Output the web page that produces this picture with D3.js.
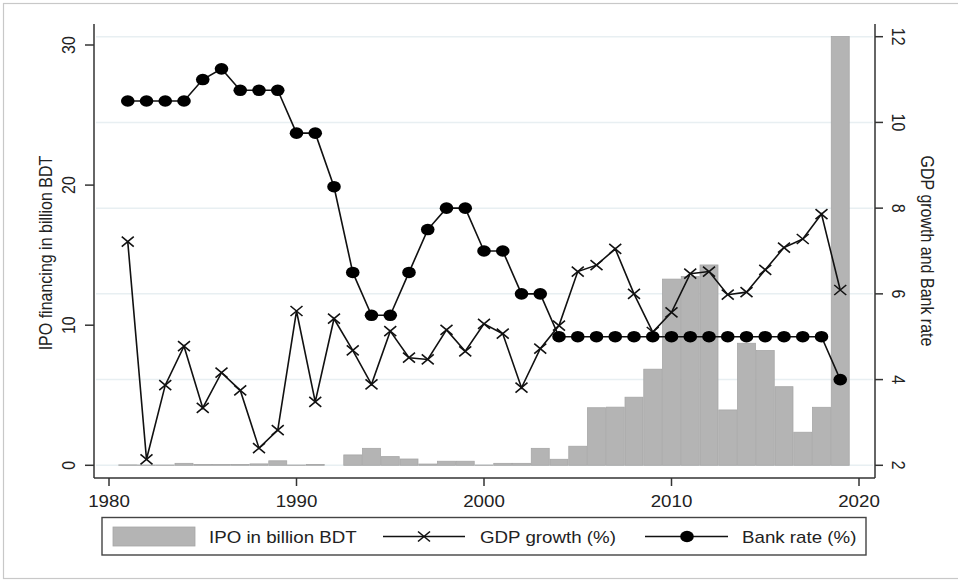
<!DOCTYPE html>
<html>
<head>
<meta charset="utf-8">
<script src="https://cdn.jsdelivr.net/npm/d3@7"></script>
<style>
  body { margin: 0; background: #fff; }
  text { font-family: "Liberation Sans", Arial, sans-serif; fill: #222; }
</style>
</head>
<body>
<div id="wrapper"></div>
<script>
// DATA
const years = [1981,1982,1983,1984,1985,1986,1987,1988,1989,1990,
  1991,1992,1993,1994,1995,1996,1997,1998,1999,2000,
  2001,2002,2003,2004,2005,2006,2007,2008,2009,2010,
  2011,2012,2013,2014,2015,2016,2017,2018,2019]
const ipo = [0.03,0.02,0.02,0.14,0.05,0.05,0.05,0.1,0.32,0.02,0.05,0.0,
  0.74,1.21,0.62,0.45,0.09,0.29,0.29,0.02,0.14,0.14,1.21,0.43,1.36,
  4.11,4.15,4.86,6.86,13.29,13.47,14.3,3.95,8.71,8.19,5.61,2.36,4.14,30.6]
const gdp = [7.22,2.14,3.87,4.78,3.34,4.16,3.75,2.40,2.82,5.60,
  3.48,5.42,4.68,3.89,5.13,4.51,4.47,5.16,4.66,5.30,
  5.07,3.81,4.72,5.26,6.52,6.67,7.05,6.0,5.11,5.57,
  6.47,6.52,5.98,6.04,6.56,7.08,7.28,7.86,6.09]
const bank = [10.5,10.5,10.5,10.5,11,11.25,10.75,10.75,10.75,9.75,
  9.75,8.5,6.5,5.5,5.5,6.5,7.5,8,8,7,
  7,6,6,5,5,5,5,5,5,5,
  5,5,5,5,5,5,5,5,4]
const xTicks = [1980,1990,2000,2010,2020]
const leftTicks = [0,10,20,30]
const rightTicks = [2,4,6,8,10,12]
const legendLabels = ["IPO in billion BDT", "GDP growth (%)", "Bank rate (%)"]

const width = 958, height = 581
const sx = 1.17  // horizontal stretch of the picture

const svg = d3.select('#wrapper').append('svg')
  .attr('width', width).attr('height', height)

// outer frame
svg.append('rect')
  .attr('x', 3.5).attr('y', 3.5).attr('width', 970).attr('height', 575)
  .attr('fill', 'none').attr('stroke', '#c8c8c8').attr('stroke-width', 1.2)

const x = d3.scaleLinear().domain([1980, 2020]).range([109, 859])
const yL = d3.scaleLinear().domain([0, 30]).range([465.3, 45])
const yR = d3.scaleLinear().domain([2, 12]).range([465.3, 36.7])

const plot = {left: 94, right: 875, top: 24, bottom: 478}

// gridlines
svg.append('g').selectAll('line').data(rightTicks).join('line')
  .attr('x1', plot.left + 2).attr('x2', plot.right - 2)
  .attr('y1', d => yR(d)).attr('y2', d => yR(d))
  .attr('stroke', '#e8eff2').attr('stroke-width', 1.5)

// bars
const bw = x(1981) - x(1980)
svg.append('g').selectAll('rect').data(years).join('rect')
  .attr('x', (d) => x(d) - bw / 2 + 0.4)
  .attr('width', bw - 0.8)
  .attr('y', (d, i) => yL(ipo[i]))
  .attr('height', (d, i) => yL(0) - yL(ipo[i]))
  .attr('fill', '#b4b4b4').attr('stroke', '#a6a6a6').attr('stroke-width', 0.8)

// lines
const gdpLine = d3.line().x((d, i) => x(years[i])).y(d => yR(d))
svg.append('path').attr('d', gdpLine(gdp))
  .attr('fill', 'none').attr('stroke', '#111').attr('stroke-width', 1.6)
svg.append('path').attr('d', gdpLine(bank))
  .attr('fill', 'none').attr('stroke', '#111').attr('stroke-width', 1.6)

function xMark(g, cx, cy) {
  g.append('path')
    .attr('d', `M${cx - 6},${cy - 5}L${cx + 6},${cy + 5}M${cx - 6},${cy + 5}L${cx + 6},${cy - 5}`)
    .attr('stroke', '#111').attr('stroke-width', 1.6).attr('fill', 'none')
}
const marks = svg.append('g')
gdp.forEach((d, i) => xMark(marks, x(years[i]), yR(d)))

svg.append('g').selectAll('ellipse').data(bank).join('ellipse')
  .attr('cx', (d, i) => x(years[i])).attr('cy', d => yR(d))
  .attr('rx', 6.8).attr('ry', 5.8).attr('fill', '#000')

// axes
const axisColor = '#333'
const axes = svg.append('g').attr('stroke', axisColor).attr('stroke-width', 1.5)
axes.append('line').attr('x1', plot.left).attr('x2', plot.left).attr('y1', plot.top).attr('y2', plot.bottom)
axes.append('line').attr('x1', plot.right).attr('x2', plot.right).attr('y1', plot.top).attr('y2', plot.bottom)
axes.append('line').attr('x1', plot.left).attr('x2', plot.right).attr('y1', plot.bottom).attr('y2', plot.bottom)

leftTicks.forEach(t => {
  axes.append('line').attr('x1', plot.left - 9).attr('x2', plot.left).attr('y1', yL(t)).attr('y2', yL(t))
  svg.append('text').attr('transform', `translate(75,${yL(t)}) rotate(-90) scale(1,1.15)`)
    .attr('text-anchor', 'middle').attr('font-size', 16).text(t)
})
rightTicks.forEach(t => {
  axes.append('line').attr('x1', plot.right).attr('x2', plot.right + 8).attr('y1', yR(t)).attr('y2', yR(t))
  svg.append('text').attr('transform', `translate(892,${yR(t)}) rotate(90) scale(1,1.15)`)
    .attr('text-anchor', 'middle').attr('font-size', 16).text(t)
})
xTicks.forEach(t => {
  axes.append('line').attr('x1', x(t)).attr('x2', x(t)).attr('y1', plot.bottom).attr('y2', plot.bottom + 8)
  svg.append('text').attr('transform', `translate(${x(t)},506.5) scale(${sx},1)`)
    .attr('text-anchor', 'middle').attr('font-size', 16).text(t)
})

// axis titles
svg.append('text').attr('transform', `translate(52,253) rotate(-90) scale(1,1.15)`)
  .attr('text-anchor', 'middle').attr('font-size', 16).text('IPO financing in billion BDT')
svg.append('text').attr('transform', `translate(921,251) rotate(90) scale(1,1.15)`)
  .attr('text-anchor', 'middle').attr('font-size', 16).text('GDP growth and Bank rate')

// legend
const lg = svg.append('g')
lg.append('rect').attr('x', 102).attr('y', 517.5).attr('width', 764).attr('height', 37.5)
  .attr('fill', '#fff').attr('stroke', '#444').attr('stroke-width', 1.4)
lg.append('rect').attr('x', 113).attr('y', 527).attr('width', 82).attr('height', 19)
  .attr('fill', '#b4b4b4').attr('stroke', '#a6a6a6').attr('stroke-width', 0.8)
lg.append('line').attr('x1', 383).attr('x2', 465).attr('y1', 536.5).attr('y2', 536.5)
  .attr('stroke', '#111').attr('stroke-width', 1.6)
xMark(lg, 424, 536.5)
lg.append('line').attr('x1', 645).attr('x2', 728).attr('y1', 536.5).attr('y2', 536.5)
  .attr('stroke', '#111').attr('stroke-width', 1.6)
lg.append('ellipse').attr('cx', 687).attr('cy', 536.5).attr('rx', 6.8).attr('ry', 5.8).attr('fill', '#000')
const legX = [209, 480, 742]
legendLabels.forEach((l, i) => {
  lg.append('text').attr('transform', `translate(${legX[i]},543) scale(${sx},1)`)
    .attr('font-size', 16).text(l)
})
</script>
</body>
</html>
